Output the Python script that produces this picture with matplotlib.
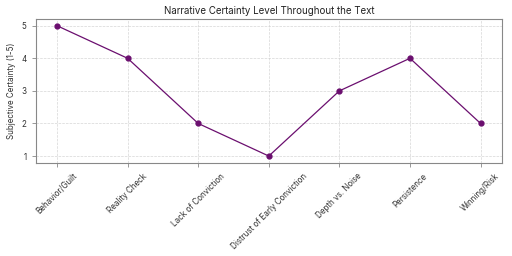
import matplotlib
matplotlib.use("Agg")
import matplotlib.pyplot as plt

categories = ["Behavior/Guilt", "Reality Check", "Lack of Conviction",
              "Distrust of Early Conviction", "Depth vs. Noise", "Persistence",
              "Winning/Risk"]
certainty = [5, 4, 2, 1, 3, 4, 2]

plt.rcParams['font.family'] = ['Inter', 'DejaVu Sans']

fig, ax = plt.subplots(figsize=(5.12, 2.56), dpi=100)
fig.subplots_adjust(left=0.07, right=0.98, top=0.925, bottom=0.365)
ax.plot(categories, certainty, marker='o', color='#6b0f6f', linewidth=0.9, markersize=3.5)
ax.set_title("Narrative Certainty Level Throughout the Text", fontsize=7, pad=4, color='#222222')
ax.set_ylabel("Subjective Certainty (1-5)", fontsize=5.8, color='#333333')
ax.set_yticks([1, 2, 3, 4, 5])
ax.tick_params(axis='both', labelsize=5.8, length=3, width=0.6, color='#888888', labelcolor='#333333')
plt.setp(ax.get_xticklabels(), rotation=45, ha='center')
ax.grid(True, linestyle='--', linewidth=0.5, color='#cccccc', alpha=0.8)
for s in ax.spines.values():
    s.set_color('#888888')
    s.set_linewidth(0.8)
fig.savefig("out.png", dpi=100)
